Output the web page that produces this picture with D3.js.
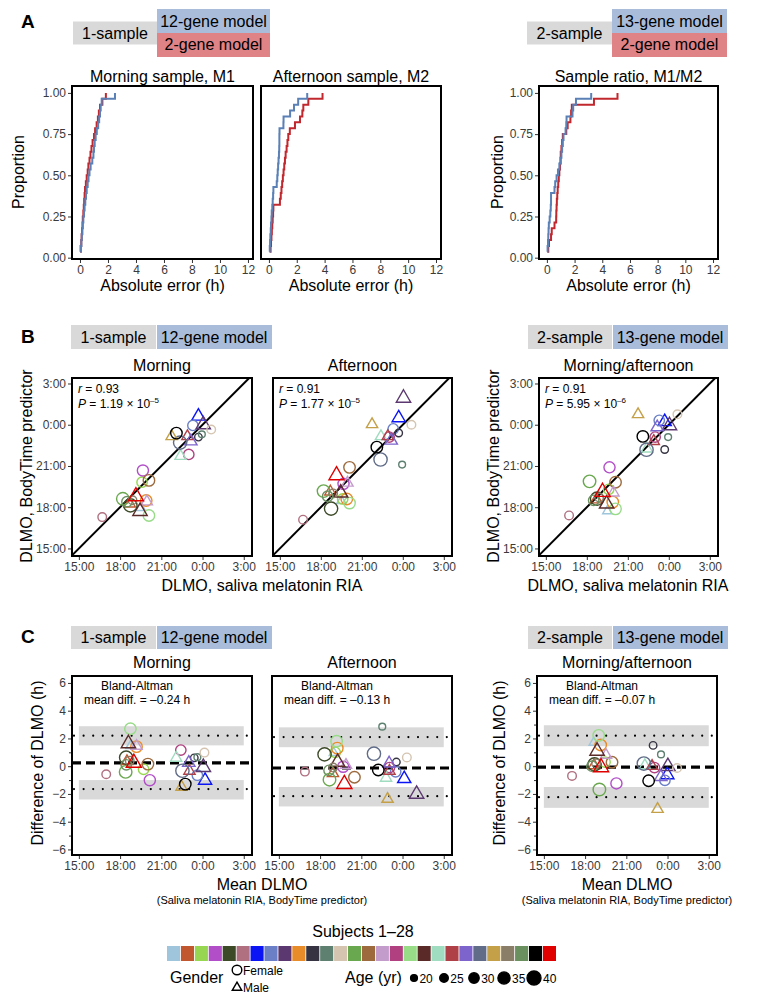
<!DOCTYPE html>
<html><head><meta charset="utf-8">
<script src="https://cdn.jsdelivr.net/npm/d3@7"></script>
<style>
body{margin:0;background:#fff;}
svg text{font-family:"Liberation Sans",Arial,sans-serif;}
</style></head><body>
<svg id="c" width="767" height="998"></svg>
<script>
// ---------------- DATA ----------------
const subjects = d3.range(1, 29);
const subjectColors = ["#9ec5dc","#c0572f","#96d650","#b24fc8","#3d4a28","#b07080","#0a14f5","#6a7fc6","#5c3870","#e88c2a",
  "#363442","#5e8070","#d4c4b0","#6aa84f","#9c6a3c","#c39ccc","#b0407f","#98dc88","#5a2a28","#a0dcc0",
  "#b04048","#7c64cc","#606c88","#c4a048","#8a7e68","#6a9060","#000000","#e00000"];
const subjectGender = ["M","M","F","F","F","F","M","F","M","F","F","F","F","F","F","M","F","F","M","M","M","M","F","M","F","F","F","M"];
const subjectAge = [25,30,30,32,38,25,35,30,38,33,22,20,25,36,33,30,30,33,38,30,30,33,38,30,25,30,33,40];
// DLMO by saliva melatonin RIA (hours, 24+ = after midnight)
const riaDLMO = [19.5,18.7,19.6,19.66,18.75,16.7,23.7,23.3,24.05,19.9,23.7,23.95,24.63,18.2,20.1,19.95,23.0,20.1,19.45,22.4,22.9,23.15,22.37,21.75,18.9,18.5,22.1,19.15];
// BodyTime predicted DLMO
const predMorning = [18.0,18.3,19.82,20.67,18.13,17.28,24.67,23.95,24.07,18.49,23.1,23.3,23.65,18.61,19.95,18.45,21.84,17.4,17.76,21.76,23.2,22.85,22.7,23.2,18.5,18.4,23.39,18.85];
const predAfternoon = [18.5,19.17,18.6,19.7,17.9,17.09,24.55,23.7,26.0,18.6,23.4,21.1,24.0,19.17,20.9,19.82,23.1,18.3,19.1,23.2,23.2,22.9,21.47,24.07,19.0,18.8,22.37,20.38];
const predMornAft = [17.76,18.6,19.3,20.9,18.62,17.4,24.27,24.32,24.0,18.37,22.2,23.1,24.76,19.88,19.82,19.1,23.1,17.88,18.3,22.3,22.85,23.87,22.18,24.8,18.7,18.5,23.15,19.17];

// absolute errors (h) for ECDFs
const errMorning12gene = [0.02,0.06,0.1,0.13,0.17,0.2,0.24,0.29,0.33,0.38,0.43,0.48,0.55,0.61,0.68,0.76,0.88,0.96,1.0,1.05,1.12,1.2,1.3,1.37,1.43,1.48,1.55,2.5];
const errMorning2gene = [0.02,0.05,0.09,0.12,0.15,0.18,0.2,0.24,0.27,0.3,0.33,0.36,0.42,0.48,0.55,0.6,0.68,0.75,0.82,0.9,1.0,1.08,1.19,1.28,1.35,1.43,1.6,1.85];
const errAfternoon12gene = [0.03,0.06,0.08,0.1,0.13,0.15,0.18,0.2,0.24,0.27,0.3,0.32,0.56,0.6,0.63,0.66,0.69,0.72,0.74,0.75,0.75,0.76,1.04,1.05,1.52,1.8,2.1,2.75];
const errAfternoon2gene = [0.08,0.12,0.15,0.18,0.21,0.24,0.27,0.3,0.32,0.79,0.85,0.9,0.95,1.0,1.05,1.1,1.15,1.2,1.27,1.33,1.39,1.5,1.87,2.23,2.4,2.47,2.83,3.85];
const errRatio13gene = [0.02,0.05,0.08,0.1,0.12,0.14,0.2,0.25,0.28,0.3,0.3,0.55,0.6,0.7,0.8,0.9,1.0,1.05,1.1,1.15,1.2,1.35,1.4,1.42,1.85,1.9,2.1,3.2];
const errRatio2gene = [0.05,0.1,0.15,0.3,0.35,0.55,0.67,0.68,0.7,0.72,0.75,0.78,0.82,0.86,0.9,0.95,0.98,1.0,1.05,1.1,1.15,1.4,1.5,1.7,1.75,1.8,3.4,5.1];

const propTicks = [0, 0.25, 0.5, 0.75, 1];
const errTicks = [0, 2, 4, 6, 8, 10, 12];
const timeTicks = [15, 18, 21, 24, 27];
const timeTickLabels = ["15:00", "18:00", "21:00", "0:00", "3:00"];
const diffTicks = [-6, -4, -2, 0, 2, 4, 6];
const diffMinorTicks = [-5, -3, -1, 1, 3, 5];

const corrR = ["0.93", "0.91", "0.91"];
const corrPMant = ["1.19", "1.77", "5.95"];
const corrPExp = ["–5", "–5", "–6"];
const baMeanLabel = ["–0.24", "–0.13", "–0.07"];
const baMeanLine = [0.24, -0.13, -0.07];
const loaUpper = [2.2, 2.1, 2.2];
const loaLower = [-1.65, -2.16, -2.23];
const ciUpper = [[1.5, 2.88], [1.37, 2.8], [1.44, 2.95]];
const ciLower = [[-2.4, -1.0], [-2.9, -1.5], [-3.0, -1.5]];
const ageLegend = [20, 25, 30, 35, 40];

// ---------------- STYLE ----------------
const BLUE = "#5a80b6", RED = "#c0282e";
const BOX_GRAY = "#d9d9d9", BOX_BLUE = "#a9bddb", BOX_RED = "#e08386";
const svg = d3.select("#c");
let clipId = 0;

function txt(g, x, y, s, size, anchor, extra) {
  const t = g.append("text").attr("x", x).attr("y", y).attr("font-size", size)
    .attr("text-anchor", anchor || "start").attr("fill", "#000").text(s);
  if (extra) extra(t);
  return t;
}

function styleAxis(a) {
  a.select(".domain").remove();
  a.selectAll("line").attr("stroke", "#333");
  a.selectAll("text").attr("font-size", 12).attr("fill", "#3a3a3a")
    .attr("font-family", '"Liberation Sans",Arial,sans-serif');
}

function panel(o) {
  const g = svg.append("g");
  const x = d3.scaleLinear().domain(o.xDomain).range([o.x0, o.x1]);
  const y = d3.scaleLinear().domain(o.yDomain).range([o.y1, o.y0]);
  g.append("g").attr("transform", `translate(0,${o.y1})`)
    .call(d3.axisBottom(x).tickValues(o.xTicks).tickFormat(o.xFmt).tickSize(4).tickPadding(2))
    .call(styleAxis);
  if (!o.noY) {
    g.append("g").attr("transform", `translate(${o.x0},0)`)
      .call(d3.axisLeft(y).tickValues(o.yTicks).tickFormat(o.yFmt).tickSize(4).tickPadding(2))
      .call(styleAxis);
    if (o.yMinor) {
      g.append("g").attr("transform", `translate(${o.x0},0)`)
        .call(d3.axisLeft(y).tickValues(o.yMinor).tickFormat("").tickSize(3))
        .call(styleAxis);
    }
  }
  const id = "clip" + (clipId++);
  g.append("clipPath").attr("id", id).append("rect")
    .attr("x", o.x0).attr("y", o.y0).attr("width", o.x1 - o.x0).attr("height", o.y1 - o.y0);
  const data = g.append("g").attr("clip-path", `url(#${id})`);
  const border = () => g.append("rect").attr("x", o.x0).attr("y", o.y0)
    .attr("width", o.x1 - o.x0).attr("height", o.y1 - o.y0)
    .attr("fill", "none").attr("stroke", "#000").attr("stroke-width", 2);
  if (o.title) txt(g, (o.x0 + o.x1) / 2, o.titleY, o.title, 16, "middle");
  return { g, x, y, data, border };
}

function header(x0, xm, x1, yTop, yBot, left, right, right2) {
  const g = svg.append("g");
  if (right2) {
    const ym = (yTop + yBot) / 2;
    g.append("rect").attr("x", x0).attr("y", ym - 11.5).attr("width", xm - x0).attr("height", 23).attr("fill", BOX_GRAY);
    txt(g, (x0 + xm) / 2, ym + 5.5, left, 16, "middle");
    g.append("rect").attr("x", xm).attr("y", yTop).attr("width", x1 - xm).attr("height", ym - yTop).attr("fill", BOX_BLUE);
    g.append("rect").attr("x", xm).attr("y", ym).attr("width", x1 - xm).attr("height", yBot - ym).attr("fill", BOX_RED);
    txt(g, (xm + x1) / 2, ym - 6.5, right, 16, "middle");
    txt(g, (xm + x1) / 2, yBot - 7, right2, 16, "middle");
  } else {
    g.append("rect").attr("x", x0).attr("y", yTop).attr("width", xm - x0).attr("height", yBot - yTop).attr("fill", BOX_GRAY);
    g.append("rect").attr("x", xm + 1).attr("y", yTop).attr("width", x1 - xm - 1).attr("height", yBot - yTop).attr("fill", BOX_BLUE);
    txt(g, (x0 + xm) / 2, yBot - 6, left, 16, "middle");
    txt(g, (xm + x1) / 2, yBot - 6, right, 16, "middle");
  }
}

function letter(x, y, s) { txt(svg, x, y, s, 19, "start", t => t.attr("font-weight", "bold")); }
function vlabel(x, y, s, size) {
  svg.append("text").attr("transform", `translate(${x},${y}) rotate(-90)`).attr("text-anchor", "middle")
    .attr("font-size", size || 16).text(s);
}

const timeFmt = (d) => timeTickLabels[timeTicks.indexOf(d)];
const sizeScale = d3.scaleLinear().domain([20, 40]).range([3.4, 7.0]);

function shape(g, cx, cy, r, gender, color, fill) {
  if (gender === "F") {
    g.append("circle").attr("cx", cx).attr("cy", cy).attr("r", r)
      .attr("fill", fill ? color : "none").attr("stroke", color).attr("stroke-width", 1.4);
  } else {
    const R = r * 1.25;
    const area = 1.299 * R * R;
    g.append("path").attr("d", d3.symbol(d3.symbolTriangle, area)())
      .attr("transform", `translate(${cx},${cy + R * 0.1})`)
      .attr("fill", fill ? color : "none").attr("stroke", color).attr("stroke-width", 1.4)
      .attr("stroke-linejoin", "miter");
  }
}

// ---------------- PANEL A ----------------
letter(21, 28, "A");
header(73, 157, 270, 9, 57, "1-sample", "12-gene model", "2-gene model");
header(527, 612, 727, 9, 57, "2-sample", "13-gene model", "2-gene model");

const aPanels = [
  { x0: 72, x1: 253, title: "Morning sample, M1", blue: errMorning12gene, red: errMorning2gene },
  { x0: 261, x1: 441, title: "Afternoon sample, M2", blue: errAfternoon12gene, red: errAfternoon2gene },
  { x0: 539, x1: 718, title: "Sample ratio, M1/M2", blue: errRatio13gene, red: errRatio2gene }
];
aPanels.forEach((p, i) => {
  const P = panel({ x0: p.x0, x1: p.x1, y0: 86, y1: 259, xDomain: [-0.57, 12.36], yDomain: [-0.008, 1.042],
    xTicks: errTicks, xFmt: d3.format("d"), yTicks: propTicks, yFmt: d3.format(".2f"), noY: i === 1,
    title: p.title, titleY: 82 });
  const line = d3.line().x(d => P.x(d[0])).y(d => P.y(d[1])).curve(d3.curveStepAfter);
  [[p.red, RED], [p.blue, BLUE]].forEach(([arr, col]) => {
    const s = arr.slice().sort(d3.ascending);
    const pts = s.map((v, k) => [v, (k + 1) / s.length]);
    P.data.append("path").attr("d", line(pts)).attr("fill", "none").attr("stroke", col).attr("stroke-width", 2);
  });
  P.border();
  txt(svg, (p.x0 + p.x1) / 2, 291, "Absolute error (h)", 16, "middle");
});
vlabel(24, 172, "Proportion");
vlabel(503, 172, "Proportion");

// ---------------- PANEL B ----------------
letter(21, 343, "B");
header(71, 156, 272, 325, 349, "1-sample", "12-gene model");
header(528, 612, 728, 325, 349, "2-sample", "13-gene model");

const bPanels = [
  { x0: 72, x1: 252, title: "Morning", pred: predMorning },
  { x0: 273, x1: 452, title: "Afternoon", pred: predAfternoon },
  { x0: 539, x1: 718, title: "Morning/afternoon", pred: predMornAft }
];
bPanels.forEach((p, i) => {
  const P = panel({ x0: p.x0, x1: p.x1, y0: 378, y1: 556, xDomain: [14.5, 27.6], yDomain: [14.45, 27.4],
    xTicks: timeTicks, xFmt: timeFmt, yTicks: timeTicks, yFmt: timeFmt, noY: i === 1,
    title: p.title, titleY: 371 });
  P.data.append("line").attr("x1", P.x(14)).attr("y1", P.y(14)).attr("x2", P.x(28)).attr("y2", P.y(28))
    .attr("stroke", "#000").attr("stroke-width", 2);
  subjects.forEach((s, k) => {
    shape(P.data, P.x(riaDLMO[k]), P.y(p.pred[k]), sizeScale(subjectAge[k]), subjectGender[k], subjectColors[k]);
  });
  P.border();
  const t1 = txt(svg, p.x0 + 6, 393, "", 12);
  t1.append("tspan").attr("font-style", "italic").text("r");
  t1.append("tspan").text(" = " + corrR[i]);
  const t2 = txt(svg, p.x0 + 6, 408, "", 12);
  t2.append("tspan").attr("font-style", "italic").text("P");
  t2.append("tspan").text(" = " + corrPMant[i] + " × 10");
  t2.append("tspan").attr("font-size", 8).attr("dy", -5).text(corrPExp[i]);
});
vlabel(32, 466, "DLMO, BodyTime predictor");
vlabel(499, 466, "DLMO, BodyTime predictor");
txt(svg, 262, 591, "DLMO, saliva melatonin RIA", 16, "middle");
txt(svg, 628, 591, "DLMO, saliva melatonin RIA", 16, "middle");

// ---------------- PANEL C ----------------
letter(21, 643, "C");
header(71, 156, 272, 626, 649, "1-sample", "12-gene model");
header(528, 612, 728, 626, 649, "2-sample", "13-gene model");

const cPanels = [
  { x0: 72, x1: 252, title: "Morning", pred: predMorning },
  { x0: 272, x1: 452, title: "Afternoon", pred: predAfternoon },
  { x0: 537, x1: 717, title: "Morning/afternoon", pred: predMornAft }
];
cPanels.forEach((p, i) => {
  const P = panel({ x0: p.x0, x1: p.x1, y0: 676, y1: 855, xDomain: [14.5, 27.6], yDomain: [-6.4, 6.5],
    xTicks: timeTicks, xFmt: timeFmt, yTicks: diffTicks, yFmt: (d => d < 0 ? "−" + Math.abs(d) : d),
    yMinor: diffMinorTicks, noY: i === 1, title: p.title, titleY: 668 });
  [ciUpper[i], ciLower[i]].forEach(b => {
    P.data.append("rect").attr("x", P.x(15)).attr("width", P.x(27) - P.x(15))
      .attr("y", P.y(b[1])).attr("height", P.y(b[0]) - P.y(b[1])).attr("fill", "#d9d9d9");
  });
  [loaUpper[i], loaLower[i]].forEach(v => {
    P.data.append("line").attr("x1", p.x0 + 2).attr("x2", p.x1).attr("y1", P.y(v)).attr("y2", P.y(v))
      .attr("stroke", "#000").attr("stroke-width", 2.2).attr("stroke-linecap", "round").attr("stroke-dasharray", "0,9.6");
  });
  P.data.append("line").attr("x1", p.x0).attr("x2", p.x1).attr("y1", P.y(baMeanLine[i])).attr("y2", P.y(baMeanLine[i]))
    .attr("stroke", "#000").attr("stroke-width", 3.2).attr("stroke-dasharray", "9,5");
  subjects.forEach((s, k) => {
    const m = (riaDLMO[k] + p.pred[k]) / 2, d = riaDLMO[k] - p.pred[k];
    shape(P.data, P.x(m), P.y(d), sizeScale(subjectAge[k]), subjectGender[k], subjectColors[k]);
  });
  P.border();
  txt(svg, p.x0 + 65, 690, "Bland-Altman", 12, "middle");
  txt(svg, p.x0 + 65, 704, "mean diff. = " + baMeanLabel[i] + " h", 12, "middle");
});
vlabel(43, 763, "Difference of DLMO (h)");
vlabel(505, 763, "Difference of DLMO (h)");
[262, 627].forEach(cx => {
  txt(svg, cx, 890, "Mean DLMO", 16, "middle");
  txt(svg, cx, 904, "(Saliva melatonin RIA, BodyTime predictor)", 11, "middle");
});

// ---------------- LEGEND ----------------
const lg = svg.append("g");
txt(lg, 363, 937, "Subjects 1–28", 16, "middle");
const sw = d3.scaleBand().domain(subjects).range([167, 556]).paddingInner(0.06);
lg.selectAll("rect.sw").data(subjects).join("rect").attr("class", "sw")
  .attr("x", d => sw(d)).attr("y", 946).attr("width", sw.bandwidth()).attr("height", 15)
  .attr("fill", (d, i) => subjectColors[i]);
txt(lg, 170, 983, "Gender", 16);
shape(lg, 237, 970, 4.8, "F", "#000");
txt(lg, 243, 975, "Female", 12);
shape(lg, 237, 987, 4.4, "M", "#000");
txt(lg, 243, 992, "Male", 12);
txt(lg, 345, 983, "Age (yr)", 16);
const ageX = d3.scalePoint().domain(ageLegend).range([414, 534]);
ageLegend.forEach(a => {
  shape(lg, ageX(a), 978, sizeScale(a), "F", "#000", true);
  txt(lg, ageX(a) + sizeScale(a) + 2, 982.5, String(a), 12);
});
</script>
</body></html>
